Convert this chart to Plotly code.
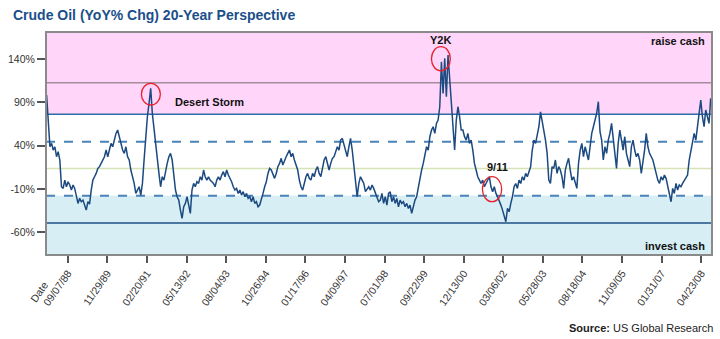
import pandas as pd
import plotly.graph_objects as go

# ---- data (YoY % change of crude oil) ----
seg_1988_1992 = [98.4, 61.8, 38.7, 42.6, 34.9, 38.7, 27.2, 33.0, 23.4, -7.5,
                 -9.4, 0.2, -7.5, -1.7, -5.5, -11.3, -5.5, -9.4, -19.0, -26.7,
                 -20.9, -24.8, -22.9, -28.6, -34.4, -24.8, -27.5, -11.3, 0.2, 4.1,
                 7.9, 13.7, 15.7, 19.5, 23.4, 27.2, 34.9, 27.2, 34.9, 42.6,
                 38.7, 46.4, 54.1, 58.0, 50.3, 42.6, 34.9, 31.1, 38.7, 27.2,
                 23.4, 11.8, 4.1, -3.6, -15.2, -11.3, -7.5, -17.1, -3.6, 23.4,
                 54.1, 73.4, 88.8, 106.1, 77.3, 58.0, 42.6, 23.4, 7.9, -7.5,
                 4.1, 0.2, 11.8, 19.5, 27.2, 31.1, 23.4, 4.1, -11.3, -19.0,
                 -22.9, -34.4, -44.0, -30.6, -26.7, -19.0, -30.6, -38.3, -11.3, -3.6,
                 -7.5, -1.7, -3.6, 4.1, 0.2, 11.8, 4.1, 0.2, 4.1, 0.2,
                 -1.7]
seg_1993_1998 = [-3.6, -7.5, 0.2, 4.1, 0.2, 6.0, 9.9, 4.1, 11.8, 6.0,
                 2.2, -1.7, -7.5, -11.3, -9.4, -15.2, -11.3, -17.1, -13.2, -19.0,
                 -15.2, -20.9, -19.0, -24.8, -19.0, -26.7, -24.8, -30.6, -28.6, -22.9,
                 -15.2, -7.5, -1.7, 7.9, 13.7, 11.8, 6.0, 2.2, 7.9, 15.7,
                 19.5, 25.3, 17.6, 23.4, 27.2, 31.1, 34.9, 27.2, 31.1, 23.4,
                 17.6, 11.8, 0.2, -7.5, -11.3, -3.6, 4.1, 7.9, 2.2, 0.2,
                 7.9, 4.1, 11.8, 15.7, 7.9, 4.1, 13.7, 23.4, 27.2, 17.6,
                 11.8, 19.5, 25.3, 27.2, 33.0, 38.7, 34.9, 46.4, 48.4, 40.7,
                 34.9, 27.2, 38.7, 48.4, 34.9, 15.7, -3.6, -19.0, -3.6, 4.1,
                 0.2, -3.6, -13.2, -9.4, -7.5, -11.3, -5.5, -9.4, -15.2, -19.0,
                 -24.8]
seg_1998_2003 = [-22.9, -15.2, -26.7, -19.0, -28.7, -15.2, -13.3, -24.8, -19.0, -26.7,
                 -21.0, -30.6, -22.9, -26.7, -24.8, -30.6, -26.7, -32.5, -28.7, -38.3,
                 -30.6, -22.9, -19.0, -7.5, 4.1, 11.8, 19.5, 29.1, 38.7, 34.9,
                 50.3, 57.9, 61.8, 54.1, 65.7, 69.5, 84.9, 136.9, 100.3, 140.7,
                 96.5, 144.6, 119.6, 88.8, 65.7, 34.9, 69.5, 84.9, 73.4, 57.9,
                 57.9, 50.3, 46.4, 54.1, 42.6, 46.4, 34.9, 19.5, 11.8, 4.1,
                 0.2, -3.7, 0.2, -7.5, -3.7, 0.2, 4.1, -7.5, -13.3, -7.5,
                 -15.2, -19.0, -22.9, -28.7, -34.5, -42.2, -47.9, -32.5, -36.4, -26.7,
                 -19.0, -7.5, -3.7, -9.4, 0.2, -3.7, 4.1, 0.2, 7.9, 4.1,
                 9.8, 15.6, 34.9, 46.4, 42.6, 54.1, 61.8, 79.1, 69.5, 57.9,
                 46.4]
seg_2003_2008 = [31.1, 0.2, -3.6, 15.7, 13.7, 23.4, 7.9, 15.7, 11.8, 4.1,
                 -9.4, 11.8, 19.5, 25.3, 11.8, 0.2, 4.1, -3.6, -9.4, 19.5,
                 34.9, 42.6, 27.2, 38.7, 31.1, 23.4, 38.7, 54.1, 61.8, 69.5,
                 77.3, 90.7, 56.1, 46.4, 23.4, 38.7, 31.1, 46.4, 54.1, 65.7,
                 50.3, 34.9, 13.7, 42.6, 58.0, 46.4, 34.9, 50.3, 31.1, 23.4,
                 15.7, 38.7, 46.4, 34.9, 27.2, 31.1, 23.4, 7.9, 19.5, 34.9,
                 54.1, 38.7, 31.1, 27.2, 23.4, 15.7, 7.9, 0.2, -3.6, 4.1,
                 0.2, 6.0, 2.2, -7.5, -19.0, -24.8, -9.4, -15.2, -3.6, -11.3,
                 -5.5, -7.5, -3.6, 0.2, 2.2, 6.0, 23.4, 34.9, 46.4, 54.1,
                 46.4, 61.8, 77.3, 92.6, 73.4, 61.8, 81.1, 73.4, 65.7, 94.6]
yoy = seg_1988_1992 + seg_1993_1998 + seg_1998_2003 + seg_2003_2008
first_date, last_date = "1988-01-11", "2008-08-08"

tick_dates = ["1988-09-07", "1989-11-29", "1991-02-20", "1992-05-13", "1993-08-04",
              "1994-10-26", "1996-01-17", "1997-04-09", "1998-07-01", "1999-09-22",
              "2000-12-13", "2002-03-06", "2003-05-28", "2004-08-18", "2005-11-09",
              "2007-01-31", "2008-04-23"]
tick_labels = [pd.Timestamp(d).strftime("%m/%d/%y") for d in tick_dates]
y_ticks = [140, 90, 40, -10, -60]
y_labels = [f"{v}%" for v in y_ticks]

# reference levels
lvl_top3 = 112.5
lvl_up2 = 76.3
lvl_up1 = 44.4
lvl_mean = 13.6
lvl_dn1 = -17.9
lvl_dn2 = -49.4
y_min, y_max = -86.3, 171.2
x_min, x_max = "1988-01-04", "2008-08-23"

# events: (label, center date, center value, circle half-width days, half-height, text date, text value)
events = [
    ("Desert Storm", "1991-04-05", 99.4, 107, 12.5, "1993-01-30", 90.3),
    ("Y2K", "2000-03-30", 140.3, 107, 13.9, "2000-03-21", 161.9),
    ("9/11", "2001-10-30", -10.3, 109, 14.4, "2002-01-02", 15.6),
]

dates = pd.date_range(first_date, last_date, periods=len(yoy))

FONT = "Liberation Sans, Arial, sans-serif"

fig = go.Figure()
fig.add_trace(go.Scatter(x=dates, y=yoy, mode="lines",
                         line=dict(color="#1c4a80", width=1.5), hoverinfo="skip"))

shapes = []
shapes.append(dict(type="rect", xref="paper", yref="y", x0=0, x1=1, y0=lvl_up2, y1=y_max,
                   fillcolor="#ffd6fa", line=dict(width=0), layer="below"))
shapes.append(dict(type="rect", xref="paper", yref="y", x0=0, x1=1, y0=y_min, y1=lvl_dn1,
                   fillcolor="#d6eef4", line=dict(width=0), layer="below"))


def hline(v, color, width=1.5, dash="solid"):
    return dict(type="line", xref="paper", yref="y", x0=0, x1=1, y0=v, y1=v,
                line=dict(color=color, width=width, dash=dash), layer="below")


shapes += [hline(lvl_top3, "#a58d9c", 1.5),
           hline(lvl_up2, "#2f6aa8", 1.5),
           hline(lvl_up1, "#4a82b8", 2, "dash"),
           hline(lvl_mean, "#d6e3b4", 1.5),
           hline(lvl_dn1, "#4a82b8", 2, "dash"),
           hline(lvl_dn2, "#1e4f86", 1.5)]

annotations = []
for name, cd, cv, hw, hh, td, tv in events:
    c = pd.Timestamp(cd)
    shapes.append(dict(type="circle", xref="x", yref="y",
                       x0=c - pd.Timedelta(days=hw), x1=c + pd.Timedelta(days=hw),
                       y0=cv - hh, y1=cv + hh, line=dict(color="#e8202a", width=1.3)))
    annotations.append(dict(x=td, y=tv, xref="x", yref="y", text=f"<b>{name}</b>",
                            showarrow=False, font=dict(family=FONT, size=11, color="#111")))

shapes.append(dict(type="rect", xref="paper", yref="paper", x0=0, x1=1, y0=0, y1=1,
                   line=dict(color="#8a8a8a", width=2)))

annotations += [
    dict(xref="paper", yref="y", x=1, y=161, xshift=-5, xanchor="right", yanchor="middle",
         text="<b>raise cash</b>", showarrow=False, font=dict(family=FONT, size=11, color="#111")),
    dict(xref="paper", yref="y", x=1, y=-75.9, xshift=-5, xanchor="right", yanchor="middle",
         text="<b>invest cash</b>", showarrow=False, font=dict(family=FONT, size=11, color="#111")),
    dict(xref="paper", yref="paper", x=-0.052, y=1.076, xanchor="left", yanchor="middle",
         text="<b>Crude Oil (YoY% Chg) 20-Year Perspective</b>", showarrow=False,
         font=dict(family=FONT, size=14, color="#1b4f8a")),
    dict(xref="paper", yref="paper", x=1.0045, y=-0.327, xanchor="right", yanchor="middle",
         text="<b>Source:</b> US Global Research", showarrow=False,
         font=dict(family=FONT, size=11, color="#222")),
    dict(xref="x", yref="paper", x=tick_dates[0], y=0, xshift=-29, yshift=-37,
         xanchor="center", yanchor="middle",
         text="Date", textangle=-55, showarrow=False,
         font=dict(family=FONT, size=10.5, color="#333")),
]

fig.update_layout(
    width=720, height=339,
    margin=dict(l=41, r=8, t=32, b=84),
    paper_bgcolor="white", plot_bgcolor="white",
    showlegend=False,
    shapes=shapes, annotations=annotations,
    xaxis=dict(type="date", range=[x_min, x_max], tickvals=tick_dates, ticktext=tick_labels,
               tickangle=-55, ticks="outside", ticklen=7, tickwidth=1.5, tickcolor="#555",
               showgrid=False, zeroline=False, showline=False,
               tickfont=dict(family=FONT, size=10.5, color="#333")),
    yaxis=dict(range=[y_min, y_max], tickvals=y_ticks, ticktext=y_labels,
               ticks="outside", ticklen=8, tickwidth=1.5, tickcolor="#555",
               showgrid=False, zeroline=False, showline=False,
               tickfont=dict(family=FONT, size=10.5, color="#333")),
)

fig.write_html("out.html")
